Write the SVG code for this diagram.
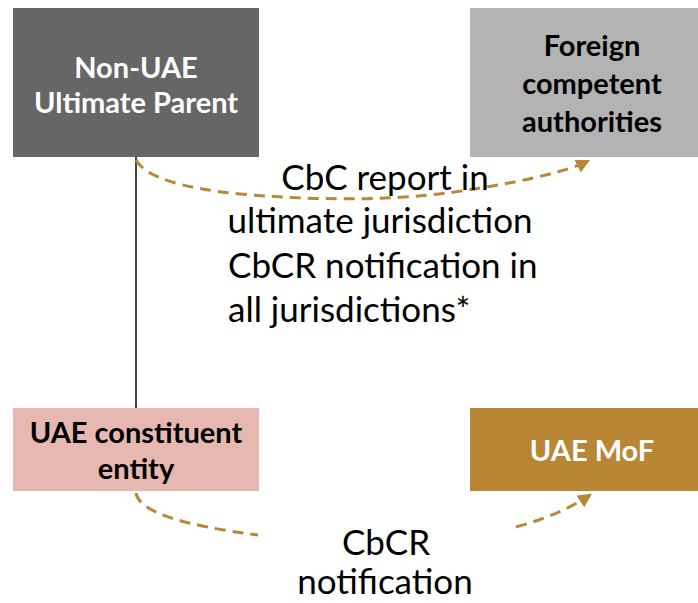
<svg xmlns="http://www.w3.org/2000/svg" width="698" height="603" viewBox="0 0 698 603">
  <style>
    .lbl { font-family: Lato, "Open Sans", "Liberation Sans", sans-serif; font-weight: bold; font-size: 29px; text-anchor: middle; }
    .note { font-family: Lato, "Open Sans", "Liberation Sans", sans-serif; font-size: 35px; fill: #000; }
    .flow { fill: none; stroke: #b8873a; stroke-width: 3; stroke-dasharray: 11 7; }
  </style>
  <defs>
    <marker id="arrow" markerWidth="14" markerHeight="14" refX="10" refY="6" orient="auto" markerUnits="userSpaceOnUse" viewBox="0 0 12 12">
      <path d="M0,0 L12,6 L0,12 z" fill="#b8873a"/>
    </marker>
  </defs>

  <rect width="698" height="603" fill="#fff"/>

  <g id="connectors">
    <line x1="136" y1="157" x2="136" y2="408" stroke="#000" stroke-width="1.5"/>
    <path class="flow" d="M136,160 Q150,185 240,194 Q380,206 480,188 Q560,175 588,161" marker-end="url(#arrow)"/>
    <path class="flow" d="M136,493 Q140,520 258,535"/>
    <path class="flow" d="M516,527 Q560,515 590,495" marker-end="url(#arrow)"/>
  </g>

  <g id="non-uae-parent">
    <rect x="13" y="8" width="246" height="149" fill="#666666"/>
    <text class="lbl" x="136" y="78" fill="#fff">Non-UAE</text>
    <text class="lbl" x="136" y="113" fill="#fff">Ultimate Parent</text>
  </g>

  <g id="foreign-authorities">
    <rect x="470" y="8" width="228" height="149" fill="#b3b3b3"/>
    <text class="lbl" x="592" y="56" fill="#000">Foreign</text>
    <text class="lbl" x="592" y="94" fill="#000">competent</text>
    <text class="lbl" x="592" y="132" fill="#000">authorities</text>
  </g>

  <g id="uae-constituent">
    <rect x="13" y="408" width="246" height="83" fill="#e6b8b0"/>
    <text class="lbl" x="136" y="443" fill="#000">UAE constituent</text>
    <text class="lbl" x="136" y="479" fill="#000">entity</text>
  </g>

  <g id="uae-mof">
    <rect x="470" y="408" width="228" height="83" fill="#b88635"/>
    <text class="lbl" x="592" y="461" fill="#fff">UAE MoF</text>
  </g>

  <g id="notes">
    <text class="note" x="385" y="190" text-anchor="middle">CbC report in</text>
    <text class="note" x="380" y="233" text-anchor="middle">ultimate jurisdiction</text>
    <text class="note" x="228" y="278">CbCR notification in</text>
    <text class="note" x="228" y="322">all jurisdictions*</text>
    <text class="note" x="386" y="555" text-anchor="middle">CbCR</text>
    <text class="note" x="385" y="594" text-anchor="middle">notification</text>
  </g>
</svg>
